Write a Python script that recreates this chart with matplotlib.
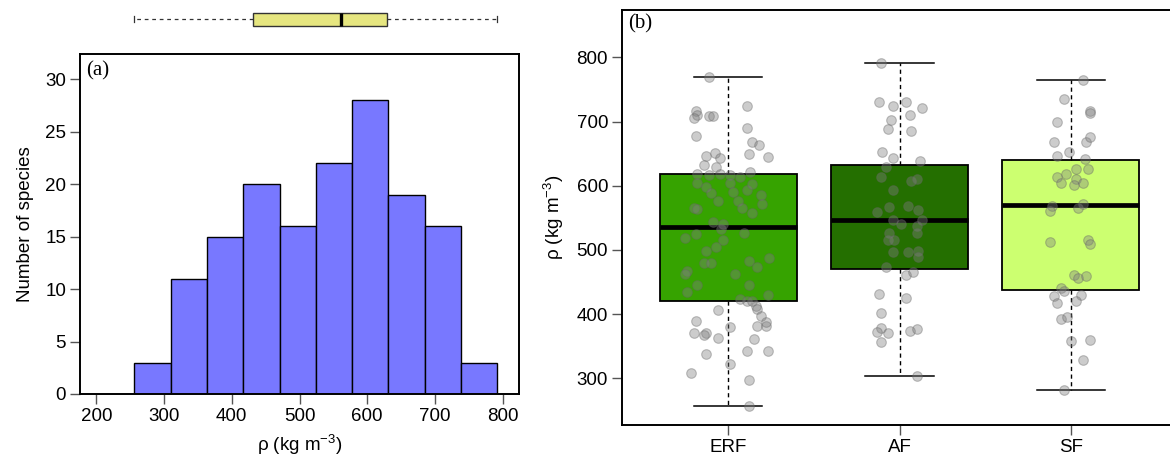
import matplotlib
matplotlib.use("Agg")
import matplotlib.pyplot as plt
import numpy as np

plt.rcParams['font.family'] = ['Liberation Sans', 'DejaVu Sans']
plt.rcParams['mathtext.fontset'] = 'custom'
plt.rcParams['mathtext.rm'] = 'Liberation Sans'
plt.rcParams['mathtext.it'] = 'Liberation Sans'
plt.rcParams['mathtext.default'] = 'regular'

# histogram of wood density (all species)
bin_edges = [256, 310, 363, 417, 471, 525, 578, 631, 685, 738, 791]
bin_counts = [3, 11, 15, 20, 16, 22, 28, 19, 16, 3]

# summary box above the histogram: whislo, q1, median, q3, whishi
all_stats = [256, 431, 561, 629, 791]

# boxes per forest type
groups = ["ERF", "AF", "SF"]
group_colors = ["#36a300", "#246f00", "#ccff70"]
box_stats = {
    "ERF": [257, 420, 536, 619, 770],
    "AF": [303, 470, 546, 633, 791],
    "SF": [281, 437, 570, 640, 765],
}

# jittered species values (value, horizontal offset from box centre)
erf_vals = [770, 717, 711, 705, 708, 708, 724, 677, 690, 668, 664, 647, 651, 643, 650, 645,
            633, 630, 622, 619, 616, 618, 616, 614, 605, 598, 589, 576, 604, 590, 593, 602,
            585, 572, 576, 566, 565, 563, 557, 543, 541, 532, 524, 518, 527, 515, 504, 498,
            479, 479, 482, 474, 487, 467, 462, 462, 446, 446, 434, 429, 423, 420, 420, 412,
            408, 406, 397, 389, 380, 381, 381, 387, 370, 370, 367, 362, 361, 342, 342, 337,
            322, 308, 297, 256]
erf_jit = [-0.11, -0.19, -0.18, -0.20, -0.11, -0.09, 0.11, -0.19, 0.11, 0.14, 0.18, -0.13, -0.08, -0.05, 0.12, 0.23,
           -0.14, -0.07, 0.13, -0.18, -0.11, -0.05, 0.01, 0.07, -0.18, -0.13, -0.10, -0.06, 0.01, 0.03, 0.11, 0.14,
           0.19, 0.20, 0.06, 0.08, -0.20, -0.18, 0.14, -0.09, -0.03, -0.04, -0.19, -0.25, 0.09, -0.03, -0.07, -0.13,
           -0.14, -0.10, 0.12, 0.17, 0.24, -0.24, -0.25, 0.04, -0.18, 0.12, -0.24, 0.23, 0.07, 0.11, 0.14, 0.16,
           0.17, -0.06, 0.19, -0.19, 0.01, 0.17, 0.22, 0.22, -0.20, -0.13, -0.14, -0.06, 0.15, 0.11, 0.23, -0.13,
           0.01, -0.22, 0.12, 0.12]

af_vals = [791, 731, 724, 731, 721, 702, 710, 688, 686, 652, 643, 638, 629, 613, 607, 610,
           593, 567, 559, 568, 562, 546, 541, 547, 537, 526, 526, 515, 515, 497, 497, 499,
           489, 474, 461, 465, 431, 425, 401, 379, 372, 370, 373, 376, 356, 303]
af_jit = [-0.11, -0.12, -0.04, 0.04, 0.13, -0.05, 0.06, -0.07, 0.07, -0.10, -0.04, 0.12, -0.08, -0.11, 0.07, 0.10,
          -0.04, -0.06, -0.13, 0.05, 0.11, -0.04, 0.01, 0.13, 0.10, 0.10, -0.06, -0.07, -0.03, -0.04, 0.05, 0.11,
          0.11, -0.08, 0.04, 0.08, -0.12, 0.04, -0.11, -0.11, -0.13, -0.07, 0.06, 0.10, -0.11, 0.10]

sf_vals = [765, 735, 717, 714, 700, 668, 668, 676, 646, 652, 641, 626, 626, 619, 613, 605,
           611, 601, 605, 569, 560, 566, 571, 513, 515, 509, 461, 456, 459, 440, 436, 428,
           417, 429, 420, 392, 395, 358, 359, 328, 281]
sf_jit = [0.07, -0.04, 0.11, 0.11, -0.08, -0.10, 0.09, 0.11, -0.08, -0.01, 0.08, 0.10, 0.03, -0.03, -0.08, -0.06,
          0.03, 0.02, 0.07, -0.11, -0.12, 0.04, 0.07, -0.12, 0.10, 0.11, 0.02, 0.04, 0.09, -0.06, -0.04, -0.10,
          -0.08, 0.06, 0.03, -0.06, -0.02, 0.00, 0.11, 0.07, -0.04]

points = {"ERF": (erf_vals, erf_jit), "AF": (af_vals, af_jit), "SF": (sf_vals, sf_jit)}


def make_stats(s):
    return dict(whislo=s[0], q1=s[1], med=s[2], q3=s[3], whishi=s[4], fliers=[])


W, H = 1170, 466
fig = plt.figure(figsize=(W / 100, H / 100), dpi=100)

tick_kw = dict(direction='out', length=7, width=1, color='#555555', labelsize=13.5, pad=3)

# ---- panel (a): histogram
ax1 = fig.add_axes([80 / W, 1 - 394 / H, 439 / W, 340 / H])
ax1.bar(bin_edges[:-1], bin_counts, width=np.diff(bin_edges), align='edge',
        color='#7878ff', edgecolor='black', linewidth=1)
ax1.set_xlim(176, 824)
ax1.set_ylim(0, 32.4)
ax1.set_xticks(range(200, 801, 100))
ax1.set_yticks(range(0, 31, 5))
ax1.tick_params(**tick_kw)
for sp in ax1.spines.values():
    sp.set_linewidth(1.4)
ax1.set_ylabel("Number of species", fontsize=13.5, labelpad=8)
ax1.set_xlabel(r"ρ (kg m$^{-3}$)", fontsize=13.5, labelpad=6)
ax1.text(0.015, 0.98, "(a)", transform=ax1.transAxes, ha='left', va='top',
         fontsize=15, family=['Liberation Serif', 'DejaVu Serif'])

# summary box on top
ax0 = fig.add_axes([80 / W, 1 - 32 / H, 439 / W, 26 / H], sharex=ax1)
ax0.bxp([make_stats(all_stats)], positions=[0], widths=1.0, vert=False,
        showfliers=False, patch_artist=True, capwidths=0.5,
        boxprops=dict(facecolor='#e6e680', edgecolor='#333333', linewidth=1),
        medianprops=dict(color='black', linewidth=2.4),
        whiskerprops=dict(color='#333333', linewidth=0.9, linestyle=(0, (3, 3))),
        capprops=dict(color='#333333', linewidth=0.9))
ax0.set_ylim(-1, 1)
ax0.axis('off')

# ---- panel (b): boxes by forest type
ax2 = fig.add_axes([622 / W, 1 - 425 / H, 555 / W, 415 / H])
positions = [1, 2, 3]
bp = ax2.bxp([make_stats(box_stats[g]) for g in groups], positions=positions, widths=0.8,
             showfliers=False, patch_artist=True, capwidths=0.4,
             boxprops=dict(edgecolor='black', linewidth=1.3),
             medianprops=dict(color='black', linewidth=3.4),
             whiskerprops=dict(color='black', linewidth=1, linestyle=(0, (3, 2.5))),
             capprops=dict(color='black', linewidth=1.1))
for patch, c in zip(bp['boxes'], group_colors):
    patch.set_facecolor(c)

for pos, g in zip(positions, groups):
    vals, jit = points[g]
    ax2.scatter(np.array(jit) + pos, vals, s=48, facecolor=(0.5, 0.5, 0.5, 0.4),
                edgecolor=(0.4, 0.4, 0.4, 0.4), linewidth=0.8, zorder=5)

ax2.set_xlim(0.38, 3.62)
ax2.set_ylim(227, 874)
ax2.set_xticks(positions)
ax2.set_xticklabels(groups)
ax2.set_yticks(range(300, 801, 100))
ax2.tick_params(**tick_kw)
for sp in ax2.spines.values():
    sp.set_linewidth(1.4)
ax2.set_ylabel(r"ρ (kg m$^{-3}$)", fontsize=13.5, labelpad=8)
ax2.text(0.011, 0.99, "(b)", transform=ax2.transAxes, ha='left', va='top',
         fontsize=15, family=['Liberation Serif', 'DejaVu Serif'])

fig.savefig("out.png", dpi=100)
